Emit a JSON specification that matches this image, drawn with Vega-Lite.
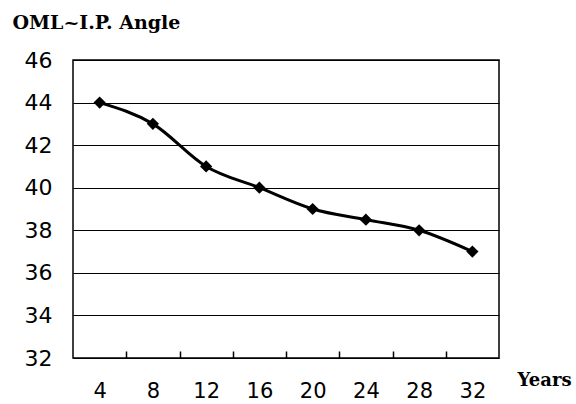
{
  "$schema": "https://vega.github.io/schema/vega-lite/v6.json",
  "width": 426,
  "height": 298,
  "autosize": {"type": "none"},
  "padding": {"left": 73, "top": 60, "right": 77, "bottom": 46},
  "background": "white",
  "config": {
    "view": {"stroke": "black", "strokeWidth": 1.5},
    "font": "DejaVu Sans"
  },
  "data": {
    "values": [
      {"year": 4, "angle": 44},
      {"year": 8, "angle": 43},
      {"year": 12, "angle": 41},
      {"year": 16, "angle": 40},
      {"year": 20, "angle": 39},
      {"year": 24, "angle": 38.5},
      {"year": 28, "angle": 38},
      {"year": 32, "angle": 37}
    ]
  },
  "encoding": {
    "x": {
      "field": "year",
      "type": "quantitative",
      "scale": {"domain": [2, 34], "nice": false, "zero": false},
      "axis": {
        "values": [4, 6, 8, 10, 12, 14, 16, 18, 20, 22, 24, 26, 28, 30, 32],
        "labelExpr": "datum.value % 4 === 0 ? datum.label : ''",
        "tickOpacity": {"condition": {"test": "datum.value % 4 === 0", "value": 0}, "value": 1},
        "tickSize": -7,
        "tickColor": "black",
        "tickWidth": 1.5,
        "domain": false,
        "grid": false,
        "labelFont": "DejaVu Sans",
        "labelFontSize": 21,
        "labelColor": "black",
        "labelPadding": 29,
        "labelBaseline": "top",
        "labelFlush": false,
        "labelOverlap": false,
        "title": "Years",
        "titleFont": "DejaVu Serif",
        "titleFontSize": 18,
        "titleFontWeight": "bold",
        "titleColor": "black",
        "titleAlign": "left",
        "titleBaseline": "alphabetic",
        "titleAnchor": "start",
        "titleX": 444,
        "titleY": 27
      }
    },
    "y": {
      "field": "angle",
      "type": "quantitative",
      "scale": {"domain": [32, 46], "nice": false, "zero": false},
      "axis": {
        "values": [32, 34, 36, 38, 40, 42, 44, 46],
        "ticks": false,
        "domain": false,
        "grid": true,
        "gridColor": "black",
        "gridOpacity": 1,
        "gridWidth": 1.2,
        "labelFont": "DejaVu Sans",
        "labelFontSize": 22,
        "labelColor": "black",
        "labelPadding": 21,
        "labelFlush": false,
        "title": "OML~I.P. Angle",
        "titleFont": "DejaVu Serif",
        "titleFontSize": 19,
        "titleFontWeight": "bold",
        "titleColor": "black",
        "titleAngle": 0,
        "titleAlign": "left",
        "titleBaseline": "alphabetic",
        "titleAnchor": "start",
        "titleX": -61,
        "titleY": -32
      }
    }
  },
  "layer": [
    {"mark": {"type": "line", "interpolate": "monotone", "color": "black", "strokeWidth": 3}},
    {"mark": {"type": "point", "shape": "diamond", "filled": true, "color": "black", "opacity": 1, "size": 150}}
  ]
}
